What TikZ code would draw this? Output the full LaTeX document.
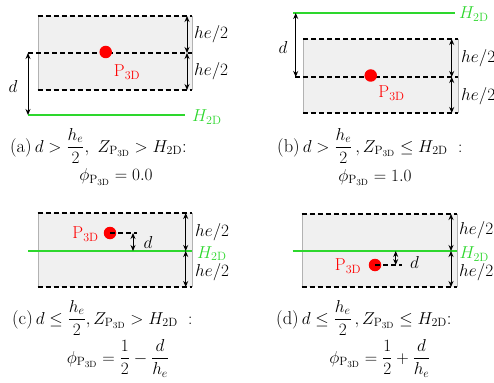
\documentclass[tikz,border=0pt]{standalone}
\usepackage{amsmath,amssymb}
\usepackage{xcolor}
\usepackage{tikz}
\usetikzlibrary{arrows.meta, positioning}
\definecolor{hgreen}{RGB}{45,215,45}
\definecolor{cellgray}{RGB}{240,240,240}
\newcommand{\pthreed}{\mathrm{P_{3D}}}
\newcommand{\htwod}{H_{\mathrm{2D}}}

\begin{document}
\begin{tikzpicture}[
    x=1pt, y=-1pt,
    side/.style={draw=gray!60, line width=0.4pt},
    bound/.style={line width=1.4pt, dash pattern=on 5pt off 3pt},
    hline/.style={draw=hgreen, line width=1.8pt},
    dim/.style={{Stealth[length=6pt,width=5pt]}-{Stealth[length=6pt,width=5pt]}, line width=0.9pt},
    dot/.style={circle, fill=red, minimum size=12.5pt, inner sep=0pt},
    lbl/.style={font=\fontsize{18.5}{22}\selectfont, inner sep=0pt},
    plbl/.style={font=\fontsize{17}{20}\selectfont, inner sep=0pt, text=red},
    glbl/.style={lbl, text=hgreen},
    captxt/.style={font=\fontsize{18.5}{22}\selectfont, inner sep=0pt},
]
\useasboundingbox (0,0) rectangle (494,382);

% (a) cell above H_2D
\fill[cellgray] (37.7,16) rectangle (191.7,90);
\draw[side] (37.7,16) -- (37.7,90) (191.7,16) -- (191.7,90);
\draw[bound] (37.7,16) -- (191.7,16);
\draw[bound] (37.7,90) -- (191.7,90);
\draw[bound] (28,53) -- (191.7,53);
\draw[hline] (28,115) -- (185,115);
\coordinate (a-top) at (187,16);
\coordinate (a-mid) at (187,53);
\coordinate (a-bot) at (187,90);
\coordinate (a-dtop) at (28,53);
\coordinate (a-dbot) at (28,115);
\draw[dim] (a-top) -- (a-mid);
\draw[dim] (a-mid) -- (a-bot);
\draw[dim] (a-dtop) -- (a-dbot);
\node[dot] (a-p) at (105.7,52) {};
\node[plbl] (a-plbl) at (127,72) {$\pthreed$};
\node[lbl, anchor=west] (a-he1) at (194,34.2) {$he/2$};
\node[lbl, anchor=west] (a-he2) at (194,71.3) {$he/2$};
\node[lbl] (a-d) at (13,87) {$d$};
\node[glbl, anchor=west] (a-h) at (192,117) {$\htwod$};
\node[captxt, anchor=base west] (a-cap1) at (10,152) {(a)\,$d>\dfrac{h_e}{2},\ Z_{\pthreed}>\htwod$:};
\node[captxt, anchor=base] (a-cap2) at (116,180.5) {$\phi_{\pthreed}=0.0$};

% (b) cell below H_2D
\fill[cellgray] (303,39) rectangle (458,113);
\draw[side] (303,39) -- (303,113) (458,39) -- (458,113);
\draw[bound] (303,39) -- (458,39);
\draw[bound] (303,113) -- (458,113);
\draw[bound] (295,77) -- (458,77);
\draw[hline] (293,13) -- (455,13);
\coordinate (b-top) at (451.7,39);
\coordinate (b-mid) at (451.7,77);
\coordinate (b-bot) at (451.7,113);
\coordinate (b-dtop) at (295.7,13);
\coordinate (b-dbot) at (295.7,77);
\draw[dim] (b-top) -- (b-mid);
\draw[dim] (b-mid) -- (b-bot);
\draw[dim] (b-dtop) -- (b-dbot);
\node[dot] (b-p) at (370.7,75.5) {};
\node[plbl] (b-plbl) at (391.5,93) {$\pthreed$};
\node[lbl, anchor=west] (b-he1) at (461,58) {$he/2$};
\node[lbl, anchor=west] (b-he2) at (461,96) {$he/2$};
\node[lbl] (b-d) at (283,48) {$d$};
\node[glbl, anchor=west] (b-h) at (459,14) {$\htwod$};
\node[captxt, anchor=base west] (b-cap1) at (277,152) {(b)\,$d>\dfrac{h_e}{2}\,,Z_{\pthreed}\leq\htwod\ :$};
\node[captxt, anchor=base] (b-cap2) at (375,181) {$\phi_{\pthreed}=1.0$};

% (c) H_2D crosses the cell, point above
\fill[cellgray] (37.7,213) rectangle (191.7,287);
\draw[side] (37.7,213) -- (37.7,287) (191.7,213) -- (191.7,287);
\draw[bound] (37.7,213) -- (191.7,213);
\draw[bound] (37.7,287) -- (191.7,287);
\draw[hline] (28,251) -- (192,251);
\node[dot] (c-p) at (110,233) {};
\coordinate (c-dend) at (137,233);
\draw[bound, line width=1.1pt] (c-p.center) -- (c-dend);
\coordinate (c-top) at (185.7,213);
\coordinate (c-mid) at (185.7,251);
\coordinate (c-bot) at (185.7,287);
\coordinate (c-dtop) at (133,233);
\coordinate (c-dbot) at (133,251);
\draw[dim] (c-top) -- (c-mid);
\draw[dim] (c-mid) -- (c-bot);
\draw[dim] (c-dtop) -- (c-dbot);
\node[plbl] (c-plbl) at (85.5,234) {$\pthreed$};
\node[lbl] (c-d) at (148,242) {$d$};
\node[lbl, anchor=west] (c-he1) at (195,231.7) {$he/2$};
\node[lbl, anchor=west] (c-he2) at (195,272.5) {$he/2$};
\node[glbl, anchor=west] (c-h) at (197,253.5) {$\htwod$};
\node[captxt, anchor=base west] (c-cap1) at (12,324) {(c)\,$d\leq\dfrac{h_e}{2},Z_{\pthreed}>\htwod\ :$};
\node[captxt, anchor=base] (c-cap2) at (118,363) {$\phi_{\pthreed}=\dfrac{1}{2}-\dfrac{d}{h_e}$};

% (d) H_2D crosses the cell, point below
\fill[cellgray] (301.7,214) rectangle (456.7,287);
\draw[side] (301.7,214) -- (301.7,287) (456.7,214) -- (456.7,287);
\draw[bound] (301.7,214) -- (456.7,214);
\draw[bound] (301.7,287) -- (456.7,287);
\draw[hline] (292.7,251) -- (456.7,251);
\node[dot] (d-p) at (375,265) {};
\coordinate (d-dend) at (401.7,265);
\draw[bound, line width=1.1pt] (d-p.center) -- (d-dend);
\coordinate (d-top) at (451,214);
\coordinate (d-mid) at (451,251);
\coordinate (d-bot) at (451,287);
\coordinate (d-dtop) at (395.7,251);
\coordinate (d-dbot) at (395.7,265);
\draw[dim] (d-top) -- (d-mid);
\draw[dim] (d-mid) -- (d-bot);
\draw[dim] (d-dtop) -- (d-dbot);
\node[plbl] (d-plbl) at (348,266) {$\pthreed$};
\node[lbl] (d-d) at (414.5,262) {$d$};
\node[lbl, anchor=west] (d-he1) at (459,230) {$he/2$};
\node[lbl, anchor=west] (d-he2) at (459,272.5) {$he/2$};
\node[glbl, anchor=west] (d-h) at (459.3,254) {$\htwod$};
\node[captxt, anchor=base west] (d-cap1) at (276,324) {(d)\,$d\leq\dfrac{h_e}{2}\,,Z_{\pthreed}\leq\htwod$:};
\node[captxt, anchor=base] (d-cap2) at (380,363) {$\phi_{\pthreed}=\dfrac{1}{2}+\dfrac{d}{h_e}$};
\end{tikzpicture}
\end{document}
